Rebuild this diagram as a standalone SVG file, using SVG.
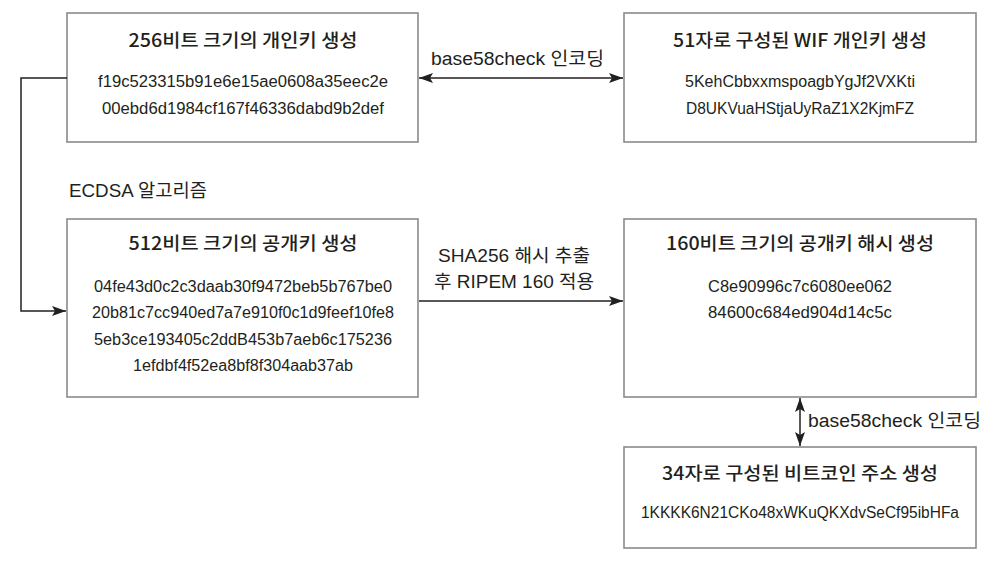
<svg xmlns="http://www.w3.org/2000/svg" width="997" height="564" viewBox="0 0 997 564">
<style>
.box{fill:#fff;stroke:#8a8a8a;stroke-width:1.6}
.t{font-family:"Noto Sans CJK KR","Noto Sans",sans-serif;font-size:18px;font-weight:500;fill:#231f20;text-anchor:middle}
.h{font-family:"Liberation Sans","Noto Sans CJK KR",sans-serif;font-size:16px;fill:#231f20;text-anchor:middle}
.l{font-family:"Liberation Sans","Noto Sans CJK KR",sans-serif;font-size:18px;font-weight:400;fill:#231f20}
.c{fill:none;stroke:#231f20;stroke-width:1.5}
</style>
<defs>
<marker id="a" viewBox="0 0 14 10" refX="14" refY="5" markerWidth="14" markerHeight="10" markerUnits="userSpaceOnUse" orient="auto-start-reverse">
<path d="M0,0 L14,5 L0,10 L3,5 Z" fill="#231f20"/>
</marker>
</defs>
<rect width="997" height="564" fill="#fff"/>
<g id="n1">
<rect class="box" x="67" y="13" width="351" height="129"/>
<text class="t" x="243" y="47" textLength="229" lengthAdjust="spacingAndGlyphs">256비트 크기의 개인키 생성</text>
<text class="h" x="243" y="87" textLength="290" lengthAdjust="spacingAndGlyphs">f19c523315b91e6e15ae0608a35eec2e</text>
<text class="h" x="243" y="114" textLength="282" lengthAdjust="spacingAndGlyphs">00ebd6d1984cf167f46336dabd9b2def</text>
</g>
<g id="n2">
<rect class="box" x="624" y="13" width="352" height="129"/>
<text class="t" x="800" y="47" textLength="254" lengthAdjust="spacingAndGlyphs">51자로 구성된 WIF 개인키 생성</text>
<text class="h" x="800" y="87" textLength="230" lengthAdjust="spacingAndGlyphs">5KehCbbxxmspoagbYgJf2VXKti</text>
<text class="h" x="800" y="114" textLength="228" lengthAdjust="spacingAndGlyphs">D8UKVuaHStjaUyRaZ1X2KjmFZ</text>
</g>
<g id="n3">
<rect class="box" x="67" y="219" width="351" height="178"/>
<text class="t" x="243" y="250" textLength="229" lengthAdjust="spacingAndGlyphs">512비트 크기의 공개키 생성</text>
<text class="h" x="243" y="292" textLength="298" lengthAdjust="spacingAndGlyphs">04fe43d0c2c3daab30f9472beb5b767be0</text>
<text class="h" x="243" y="318" textLength="302" lengthAdjust="spacingAndGlyphs">20b81c7cc940ed7a7e910f0c1d9feef10fe8</text>
<text class="h" x="243" y="345" textLength="298" lengthAdjust="spacingAndGlyphs">5eb3ce193405c2ddB453b7aeb6c175236</text>
<text class="h" x="243" y="371" textLength="220" lengthAdjust="spacingAndGlyphs">1efdbf4f52ea8bf8f304aab37ab</text>
</g>
<g id="n4">
<rect class="box" x="624" y="219" width="352" height="178"/>
<text class="t" x="800" y="250" textLength="268" lengthAdjust="spacingAndGlyphs">160비트 크기의 공개키 해시 생성</text>
<text class="h" x="800" y="292" textLength="184" lengthAdjust="spacingAndGlyphs">C8e90996c7c6080ee062</text>
<text class="h" x="800" y="318" textLength="184" lengthAdjust="spacingAndGlyphs">84600c684ed904d14c5c</text>
</g>
<g id="n5">
<rect class="box" x="624" y="447" width="352" height="101"/>
<text class="t" x="800" y="480" textLength="276" lengthAdjust="spacingAndGlyphs">34자로 구성된 비트코인 주소 생성</text>
<text class="h" x="800" y="518" textLength="318" lengthAdjust="spacingAndGlyphs">1KKKK6N21CKo48xWKuQKXdvSeCf95ibHFa</text>
</g>
<g id="connectors">
<line class="c" x1="419" y1="78" x2="623" y2="78" marker-start="url(#a)" marker-end="url(#a)"/>
<line class="c" x1="419" y1="301" x2="623" y2="301" marker-end="url(#a)"/>
<polyline class="c" points="67,78 21,78 21,311 66,311" marker-end="url(#a)"/>
<line class="c" x1="800" y1="398" x2="800" y2="446" marker-start="url(#a)" marker-end="url(#a)"/>
</g>
<g id="labels">
<text class="l" x="431" y="65" textLength="173" lengthAdjust="spacingAndGlyphs">base58check 인코딩</text>
<text class="l" x="438" y="262" textLength="152" lengthAdjust="spacingAndGlyphs">SHA256 해시 추출</text>
<text class="l" x="434" y="288" textLength="160" lengthAdjust="spacingAndGlyphs">후 RIPEM 160 적용</text>
<text class="l" x="69" y="197" textLength="138" lengthAdjust="spacingAndGlyphs">ECDSA 알고리즘</text>
<text class="l" x="808" y="427" textLength="173" lengthAdjust="spacingAndGlyphs">base58check 인코딩</text>
</g>
</svg>
